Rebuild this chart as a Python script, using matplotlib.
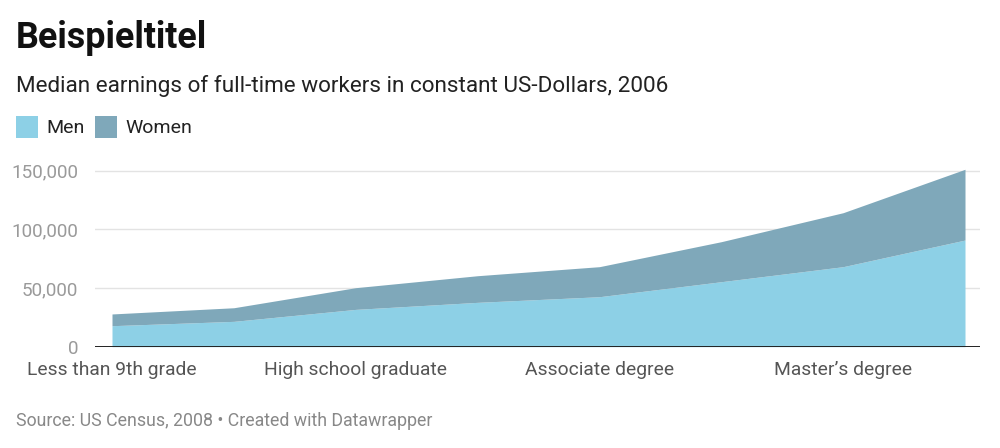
import matplotlib
matplotlib.use("Agg")
import matplotlib.pyplot as plt
from matplotlib.patches import Rectangle
import numpy as np

categories = ["Less than 9th grade", "9th to 12th grade", "High school graduate",
              "Some college", "Associate degree", "Bachelor's degree",
              "Master\u2019s degree", "Professional degree"]
men = [17900, 21600, 31800, 37800, 42600, 55400, 68200, 90900]
women = [10000, 11600, 18500, 22700, 25600, 34100, 46000, 60300]
yticks = [0, 50000, 100000, 150000]
shown_labels = [0, 2, 4, 6]

title = "Beispieltitel"
subtitle = "Median earnings of full-time workers in constant US-Dollars, 2006"
footer = "Source: US Census, 2008 \u2022 Created with Datawrapper"

c_men = "#8dd0e6"
c_women = "#7fa8ba"

plt.rcParams['font.family'] = ['Roboto', 'DejaVu Sans']

W, H = 1000, 448
fig = plt.figure(figsize=(W / 100, H / 100), dpi=100)

base_px = 346.7
top_val = 160000
px_per_unit = (346.7 - 170.7) / 150000
top_px = base_px - top_val * px_per_unit
ax = fig.add_axes([95 / W, 1 - base_px / H, (980 - 95) / W, (base_px - top_px) / H])

x = np.arange(len(categories))
total = np.array(men) + np.array(women)
ax.fill_between(x, 0, men, color=c_men, linewidth=0, zorder=2)
ax.fill_between(x, men, total, color=c_women, linewidth=0, zorder=2)

xpp = (965 - 112) / 7
ax.set_xlim(-(112 - 95) / xpp, 7 + (980 - 965) / xpp)
ax.set_ylim(0, top_val)

for s in ax.spines.values():
    s.set_visible(False)
ax.axhline(0, color="#222222", linewidth=1.4, zorder=4)
for v in yticks[1:]:
    ax.axhline(v, color="#e3e3e3", linewidth=1, zorder=1)

ax.set_yticks(yticks)
ax.set_yticklabels([f"{v:,}" for v in yticks])
ax.tick_params(axis='y', length=0, pad=12, labelsize=13.6, labelcolor="#9a9a9a")
ax.set_xticks([x[i] for i in shown_labels])
ax.set_xticklabels([categories[i] for i in shown_labels])
ax.tick_params(axis='x', length=0, pad=10.5, labelsize=13.9, labelcolor="#555555")

fig.text(16 / W, 1 - 38 / H, title, fontsize=25.8, fontweight='bold', color="#111111", va='center', ha='left')
fig.text(16 / W, 1 - 86 / H, subtitle, fontsize=16.2, color="#222222", va='center', ha='left')

for px, label, col in [(16, "Men", c_men), (95, "Women", c_women)]:
    fig.patches.append(Rectangle((px / W, 1 - 138 / H), 22 / W, 22 / H,
                                 transform=fig.transFigure, facecolor=col, edgecolor='none'))
    fig.text((px + 30) / W, 1 - 128 / H, label, fontsize=14, color="#222222", va='center', ha='left')

fig.text(16 / W, 1 - 421 / H, footer, fontsize=12.8, color="#888888", va='center', ha='left')

fig.savefig("out.png", dpi=100)
